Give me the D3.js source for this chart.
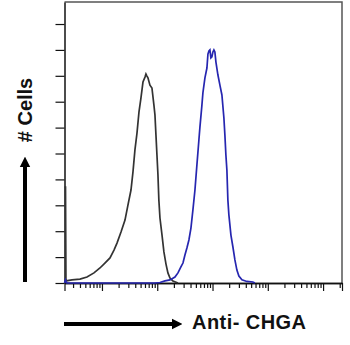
<!DOCTYPE html>
<html>
<head>
<meta charset="utf-8">
<script src="https://cdn.jsdelivr.net/npm/d3@7"></script>
<style>
  body { margin: 0; background: white; }
  svg { display: block; }
</style>
</head>
<body>
<svg id="chart" width="350" height="345"></svg>
<script>
// isotype control (grey/black) - fluorescence intensity, cell count
const controlIntensity = [2.1, 2.19, 2.23, 2.87, 4.0, 5.36, 7.17, 9.2, 11.3, 13.96, 16.5, 18.7, 22.1, 26.1, 29.5, 33.5,
    36.4, 39.5, 43.0, 46.7, 50.7, 55.2, 60.0, 62.5, 65.2, 67.9, 73.8, 80.2, 87.1, 90.9, 94.8, 98.8,
    103, 107, 112, 122, 132, 144, 156, 170, 192, 237];
const controlCount = [3.7, 3.7, 0.08, 0.12, 0.15, 0.23, 0.39, 0.58, 0.77, 0.97, 1.27, 1.54, 1.97, 2.43, 3.01, 3.59,
    4.29, 5.14, 5.79, 6.60, 7.14, 7.76, 7.95, 8.07, 7.99, 7.92, 7.64, 7.53, 6.87, 6.49, 5.71, 4.94,
    4.17, 3.20, 2.51, 1.85, 1.20, 0.73, 0.39, 0.19, 0.08, 0];

// anti-CHGA stained (blue)
const chgaIntensity = [2.1, 2.19, 2.32, 90.9, 112, 138, 170, 209, 237, 268, 292, 317, 344, 374, 407, 442,
    481, 522, 567, 592, 643, 670, 729, 792, 826, 861, 897, 935, 975, 1016, 1059, 1104,
    1153, 1253, 1361, 1479, 1607, 1675, 1746, 1820, 1897, 1977, 2153, 2339, 2541, 2761, 3000,
    3404, 4188, 5370, 5848];
const chgaCount = [0, 0.12, 0, 0, 0.02, 0.08, 0.12, 0.23, 0.39, 0.62, 0.77, 1.08, 1.35, 1.66, 2.12, 2.82,
    3.59, 4.56, 5.52, 6.02, 6.87, 7.34, 7.92, 8.30, 8.84, 8.96, 9.00, 8.69, 8.73, 8.92, 9.00, 8.92,
    8.53, 8.03, 7.64, 7.26, 6.37, 5.71, 4.94, 4.36, 3.20, 2.63, 1.85, 1.39, 0.89, 0.50, 0.27,
    0.12, 0.06, 0.04, 0];

// axis ticks
const decades = [1, 10, 100, 1000, 10000, 100000];
const minorSteps = [2, 3, 4, 5, 6, 7, 8, 9];
const yTicks = [0, 1, 2, 3, 4, 5, 6, 7, 8, 9, 10];

const xLabel = "Anti- CHGA";
const yLabel = "# Cells";

const svg = d3.select("#chart");
const plotLeft = 64.5, plotRight = 342, plotTop = 2, plotBottom = 283;

const x = d3.scaleLog().domain([2.1, 220000]).range([plotLeft, plotRight]);
const y = d3.scaleLinear().domain([0, 10.85]).range([plotBottom, plotTop]);

const dom = x.domain();
const majorTicks = decades.filter(d => d > dom[0] && d < dom[1]);
const minorTicks = [];
decades.forEach(d => minorSteps.forEach(k => {
    const v = d * k;
    if (v > dom[0] && v < dom[1]) minorTicks.push(v);
}));

//frame (top + right in grey)
svg.append("path")
    .attr("d", `M${plotLeft},${plotTop}H${plotRight}V${plotBottom}`)
    .attr("fill", "none")
    .attr("stroke", "#555")
    .attr("stroke-width", 1.5);

//x axis: minor + major ticks
const xMinor = svg.append("g")
    .attr("transform", `translate(0,${plotBottom})`)
    .call(d3.axisBottom(x).tickValues(minorTicks).tickSize(5).tickSizeOuter(0).tickFormat(""));
const xMajor = svg.append("g")
    .attr("transform", `translate(0,${plotBottom})`)
    .call(d3.axisBottom(x).tickValues(majorTicks.concat(dom)).tickSize(8).tickSizeOuter(0).tickFormat(""));
[xMinor, xMajor].forEach(g => {
    g.selectAll("line").attr("stroke", "#111").attr("stroke-width", 1.2);
    g.select(".domain").attr("stroke", "#111").attr("stroke-width", 1.5);
});

//y axis
const yAxis = svg.append("g")
    .attr("transform", `translate(${plotLeft},0)`)
    .call(d3.axisLeft(y).tickValues(yTicks).tickSize(9).tickSizeOuter(0).tickFormat(""));
yAxis.selectAll("line").attr("stroke", "#111").attr("stroke-width", 1.2);
yAxis.select(".domain").attr("stroke", "#111").attr("stroke-width", 1.5);

//histograms
const line = d3.line().x(d => x(d[0])).y(d => y(d[1]));

svg.append("path")
    .datum(d3.zip(controlIntensity, controlCount))
    .attr("d", line)
    .attr("fill", "none")
    .attr("stroke", "#333")
    .attr("stroke-width", 1.7);

svg.append("path")
    .datum(d3.zip(chgaIntensity, chgaCount))
    .attr("d", line)
    .attr("fill", "none")
    .attr("stroke", "#2626b0")
    .attr("stroke-width", 1.7);

//axis arrows + labels
svg.append("defs").append("marker")
    .attr("id", "head")
    .attr("viewBox", "0 0 10 10")
    .attr("refX", 0).attr("refY", 5)
    .attr("markerWidth", 2.6).attr("markerHeight", 3)
    .attr("markerUnits", "strokeWidth")
    .attr("orient", "auto")
    .append("path")
    .attr("d", "M0,0L10,5L0,10Z")
    .attr("fill", "black");

svg.append("line")
    .attr("x1", 64).attr("y1", 324).attr("x2", 172).attr("y2", 324)
    .attr("stroke", "black").attr("stroke-width", 4)
    .attr("marker-end", "url(#head)");

svg.append("line")
    .attr("x1", 25).attr("y1", 282).attr("x2", 25).attr("y2", 167)
    .attr("stroke", "black").attr("stroke-width", 4)
    .attr("marker-end", "url(#head)");

svg.append("text")
    .attr("x", 192).attr("y", 329)
    .attr("textLength", 114)
    .style("font-family", "'Liberation Sans', Arial, sans-serif")
    .style("font-size", "20px")
    .style("font-weight", "bold")
    .style("fill", "#111")
    .text(xLabel);

svg.append("text")
    .attr("transform", "translate(32,110) rotate(-90)")
    .attr("text-anchor", "middle")
    .style("font-family", "'Liberation Sans', Arial, sans-serif")
    .style("font-size", "20px")
    .style("font-weight", "bold")
    .style("fill", "#111")
    .text(yLabel);
</script>
</body>
</html>
